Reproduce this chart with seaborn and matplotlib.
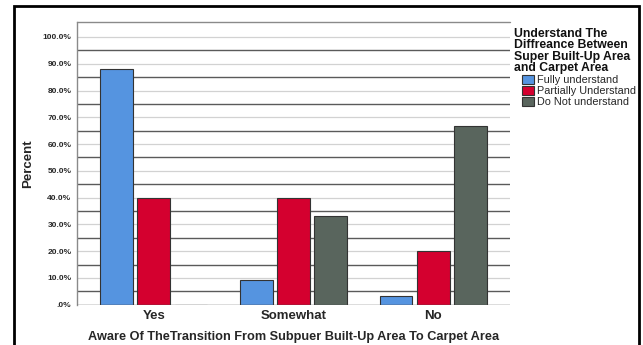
import matplotlib
matplotlib.use("Agg")
import matplotlib.pyplot as plt
import matplotlib.patches as mpatches
from matplotlib.ticker import FuncFormatter, MultipleLocator
import pandas as pd
import seaborn as sns

# Awareness categories (x axis) and understanding groups (hue)
awareness = ["Yes", "Somewhat", "No"]
understanding = ["Fully understand", "Partially Understand", "Do Not understand"]

# Percent of respondents in each awareness category
fully = [88.0, 9.1, 3.2]
partially = [40.0, 40.0, 20.0]
do_not = [0.0, 33.3, 66.7]

colors = ["#5594e0", "#d4002f", "#59655d"]

rows = []
for grp, vals in zip(understanding, [fully, partially, do_not]):
    for cat, v in zip(awareness, vals):
        rows.append({"Aware": cat, "Understand": grp, "Percent": v})
df = pd.DataFrame(rows)

sns.set_theme(style="white")
plt.rcParams["font.family"] = ["Liberation Sans", "DejaVu Sans"]

fig = plt.figure(figsize=(6.43, 3.45), dpi=100)
ax = fig.add_axes([77 / 643, 1 - 304.7 / 345, (510 - 77) / 643, (304.7 - 22) / 345])

sns.barplot(data=df, x="Aware", y="Percent", hue="Understand",
            order=awareness, hue_order=understanding, palette=colors,
            saturation=1, width=0.8, gap=0.12, edgecolor="#333333",
            linewidth=0.8, errorbar=None, ax=ax, zorder=3)

ax.set_xlim(-0.55, 2.55)
ax.set_ylim(0, 105.6)

# light gridlines at labelled ticks, darker lines half-way between
for y in range(10, 101, 10):
    ax.axhline(y, color="#d2d2d2", lw=0.9, zorder=1)
for y in range(5, 96, 10):
    ax.axhline(y, color="#5a5a5a", lw=1.0, zorder=1)
ax.axhline(105.6, color="#8a8a8a", lw=1.0, zorder=1, clip_on=False)
ax.axhline(0, color="#555555", lw=1.0, zorder=4)

ax.yaxis.set_major_locator(MultipleLocator(10))
ax.yaxis.set_major_formatter(
    FuncFormatter(lambda v, _: ".0%" if v == 0 else f"{v:.1f}%"))
ax.tick_params(axis="y", labelsize=6, length=0, pad=4)
ax.tick_params(axis="x", labelsize=9.5, length=0, pad=4)
for lbl in ax.get_yticklabels() + ax.get_xticklabels():
    lbl.set_fontweight("bold")

for side in ["top", "right", "bottom"]:
    ax.spines[side].set_visible(False)
ax.spines["left"].set_color("#8a8a8a")
ax.spines["left"].set_linewidth(1.0)

ax.set_xlabel("Aware Of TheTransition From Subpuer Built-Up Area To Carpet Area",
              fontsize=9.2, fontweight="bold", labelpad=6)
ax.set_ylabel("Percent", fontsize=9.5, fontweight="bold", labelpad=6)

# legend title as its own text block, entries indented beneath it
fig.text(514 / 643, 1 - 28 / 345,
         "Understand The\nDiffreance Between\nSuper Built-Up Area\nand Carpet Area",
         ha="left", va="top", fontsize=8.8, fontweight="bold",
         linespacing=0.92, color="#111111")

handles = [mpatches.Patch(facecolor=c, edgecolor="#333333", linewidth=0.8)
           for c in colors]
leg = ax.legend(handles, understanding,
                loc="upper left", bbox_to_anchor=(522 / 643, 1 - 75 / 345),
                bbox_transform=fig.transFigure, frameon=False,
                fontsize=7.8, handlelength=1.15, handleheight=0.95,
                handletextpad=0.2, labelspacing=0.05, borderpad=0,
                borderaxespad=0)

# outer frame around the chart
frame = mpatches.Rectangle((14 / 643, -0.05), (639 - 14) / 643, 1.05 - 6 / 345,
                           transform=fig.transFigure, fill=False,
                           edgecolor="black", linewidth=2.0)
fig.patches.append(frame)

fig.savefig("out.png", dpi=100)
